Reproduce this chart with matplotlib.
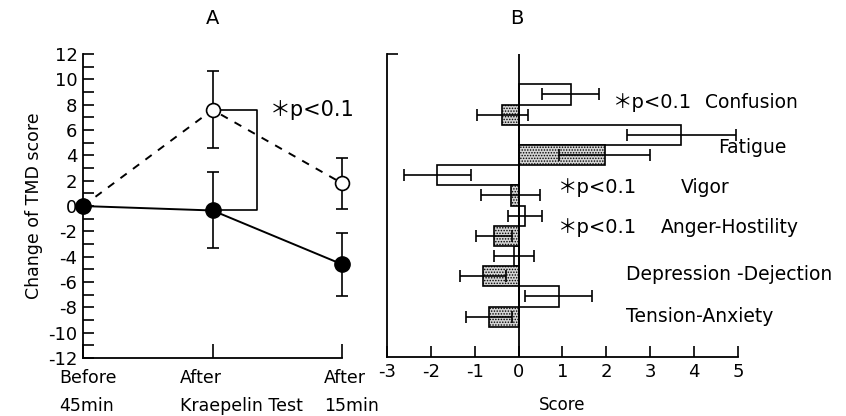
import numpy as np
import matplotlib.pyplot as plt
from matplotlib.transforms import blended_transform_factory

plt.rcParams['font.family'] = ['DejaVu Sans', 'Noto Sans CJK JP']
plt.rcParams['axes.unicode_minus'] = False
plt.rcParams['hatch.linewidth'] = 0.7
plt.rcParams['hatch.color'] = '#444444'

# Panel A: change of TMD score
time_labels = ['Before\n45min', 'After\nKraepelin Test', 'After\n15min']
open_vals = [0.0, 7.6, 1.8]
open_err = [0.0, 3.05, 2.0]
filled_vals = [0.0, -0.35, -4.6]
filled_err = [0.0, 3.0, 2.5]

# Panel B: POMS subscales (top to bottom)
moods = ['Confusion', 'Fatigue', 'Vigor', 'Anger-Hostility',
         'Depression -Dejection', 'Tension-Anxiety']
white_vals = [1.19, 3.71, -1.85, 0.14, -0.11, 0.91]
white_err = [0.65, 1.24, 0.76, 0.39, 0.46, 0.76]
dot_vals = [-0.37, 1.96, -0.18, -0.56, -0.81, -0.67]
dot_err = [0.58, 1.03, 0.67, 0.41, 0.53, 0.53]
sig_moods = ['Confusion', 'Vigor', 'Anger-Hostility']

fig = plt.figure(figsize=(8.46, 4.16), dpi=100)
axA = fig.add_axes([0.0981, 0.1394, 0.3062, 0.7306])
axB = fig.add_axes([0.4574, 0.1418, 0.4149, 0.7282])

# ---- A ----
x = np.arange(len(time_labels))
axA.errorbar(x, open_vals, yerr=open_err, color='black', ls=(0, (4, 4)), lw=1.4,
             marker='o', ms=10, mfc='white', mec='black', mew=1.2,
             capsize=4, elinewidth=1.2, capthick=1.2, clip_on=False, zorder=3)
axA.errorbar(x, filled_vals, yerr=filled_err, color='black', ls='-', lw=1.4,
             marker='o', ms=11, mfc='black', mec='black',
             capsize=4, elinewidth=1.2, capthick=1.2, clip_on=False, zorder=4)
# significance bracket
bx = 1.34
axA.plot([1, bx, bx, 1], [open_vals[1], open_vals[1], filled_vals[1], filled_vals[1]],
         color='black', lw=1.2)
axA.text(1.44, open_vals[1], '＊p<0.1', fontsize=15, va='center', ha='left')

axA.set_xlim(0, 2)
axA.set_ylim(-12, 12)
axA.set_yticks(np.arange(-12, 13, 1), minor=True)
axA.set_yticks(np.arange(-12, 13, 2))
axA.set_yticklabels([str(v) for v in range(-12, 13, 2)], fontsize=13)
axA.tick_params(axis='y', which='both', direction='in', length=8, width=1.2, pad=4)
axA.set_xticks(x)
axA.set_xticklabels([])
axA.tick_params(axis='x', direction='in', length=10, width=1.2)
for s in ['top', 'right']:
    axA.spines[s].set_visible(False)
for s in ['left', 'bottom']:
    axA.spines[s].set_linewidth(1.3)
axA.set_ylabel('Change of TMD score', fontsize=12.5, labelpad=4)

trA = blended_transform_factory(axA.transData, axA.transAxes)
label_x = [-0.18, 0.75, 1.86]
for lx, lab in zip(label_x, time_labels):
    axA.text(lx, -0.035, lab, transform=trA, fontsize=12.5, ha='left', va='top',
             linespacing=1.75)

# ---- B ----
n = len(moods)
y_white = 13 - 2 * np.arange(n)
y_dot = y_white - 1
axB.barh(y_white, white_vals, height=1.0, color='white', edgecolor='black', lw=1.2, zorder=2)
axB.barh(y_dot, dot_vals, height=1.0, color='#d4d4d4', edgecolor='black', lw=1.2,
         hatch='......', zorder=2)
axB.errorbar(white_vals, y_white, xerr=white_err, fmt='none', ecolor='black',
             elinewidth=1.2, capsize=4, capthick=1.2, zorder=3)
axB.errorbar(dot_vals, y_dot, xerr=dot_err, fmt='none', ecolor='black',
             elinewidth=1.2, capsize=4, capthick=1.2, zorder=3)
axB.axvline(0, color='black', lw=1.3, zorder=4)

axB.set_xlim(-3, 5)
axB.set_ylim(0, 15)
axB.set_xticks(np.arange(-3, 6, 1))
axB.set_xticklabels([str(v) for v in range(-3, 6)], fontsize=13)
axB.tick_params(axis='x', direction='in', length=8, width=1.2, pad=4)
axB.set_yticks([15])
axB.set_yticklabels([])
axB.tick_params(axis='y', direction='in', length=8, width=1.2)
for s in ['top', 'right']:
    axB.spines[s].set_visible(False)
for s in ['left', 'bottom']:
    axB.spines[s].set_linewidth(1.3)
axB.set_xlabel('Score', fontsize=12, labelpad=11)

label_pos = {'Confusion': (4.25, 12.6), 'Fatigue': (4.55, 10.35), 'Vigor': (3.7, 8.4),
             'Anger-Hostility': (3.25, 6.43), 'Depression -Dejection': (2.45, 4.1),
             'Tension-Anxiety': (2.45, 2.03)}
sig_pos = {'Confusion': 2.15, 'Vigor': 0.9, 'Anger-Hostility': 0.9}
for m in moods:
    lx, ly = label_pos[m]
    if m in sig_moods:
        axB.text(sig_pos[m], ly, '＊p<0.1', fontsize=14, va='center', ha='left')
    axB.text(lx, ly, m, fontsize=13.5, va='center', ha='left')

fig.text(213 / 846, 1 - 18 / 416, 'A', fontsize=14, ha='center', va='center')
fig.text(517 / 846, 1 - 18 / 416, 'B', fontsize=14, ha='center', va='center')

fig.savefig('out.png', dpi=100)
